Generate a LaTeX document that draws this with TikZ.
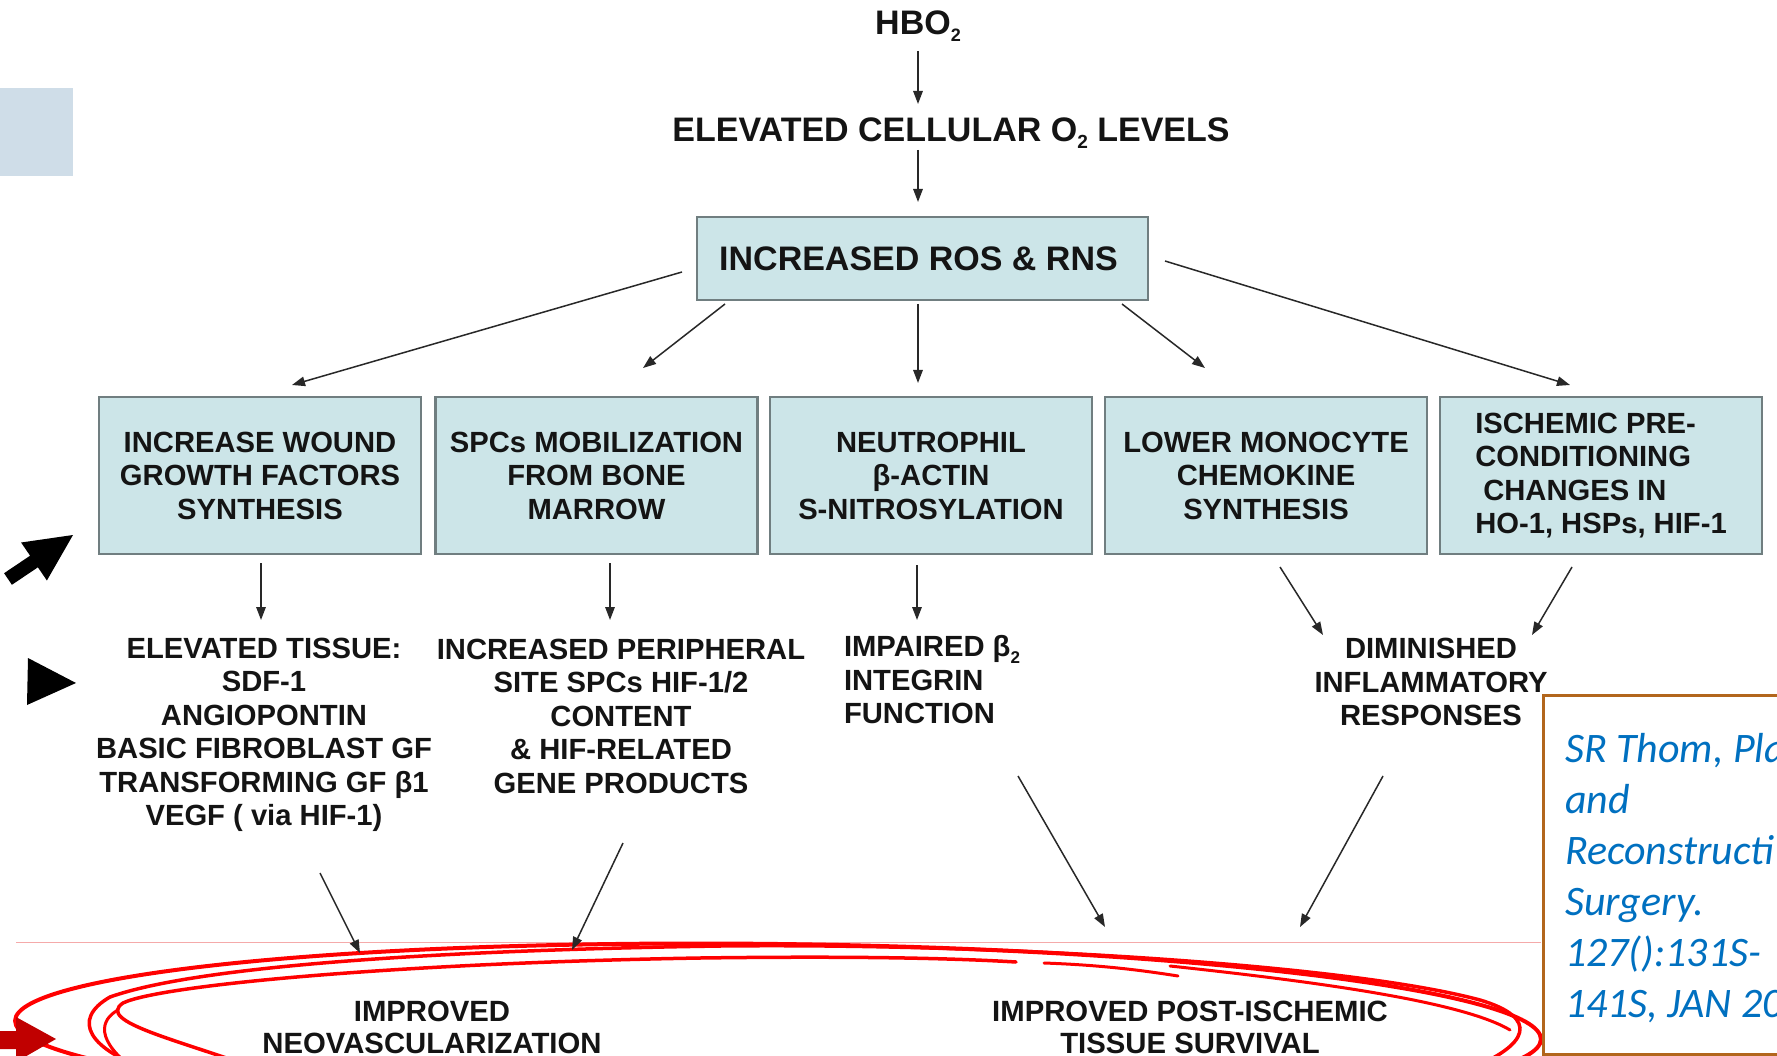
\documentclass[tikz,border=0pt]{standalone}
\usepackage{fontspec}
\setmainfont{Liberation Sans}
\newfontfamily\citefont{Carlito}
\usetikzlibrary{arrows.meta}
\definecolor{boxfill}{RGB}{204,229,232}
\definecolor{boxline}{RGB}{112,126,128}
\definecolor{txt}{RGB}{20,20,20}
\definecolor{arrowc}{RGB}{40,40,40}
\definecolor{scribred}{RGB}{255,0,0}
\definecolor{darkred}{RGB}{192,0,0}
\definecolor{citeborder}{RGB}{178,102,28}
\definecolor{citeblue}{RGB}{0,112,192}
\definecolor{lbrect}{RGB}{207,221,232}
\definecolor{pinkl}{RGB}{245,170,170}
\newcommand{\lowtwo}[1]{\raisebox{-7pt}{\fontsize{#1}{#1}\selectfont 2}}
\begin{document}
\begin{tikzpicture}[x=1pt,y=-1pt,
  every node/.style={inner sep=0pt, outer sep=0pt, text=txt},
  bx/.style={draw=boxline, line width=2.5pt, fill=boxfill, minimum width=322pt, minimum height=157pt, align=center, font=\bfseries\fontsize{29.2}{33.5}\selectfont},
  lbl/.style={align=center, font=\bfseries\fontsize{29.2}{33.5}\selectfont},
  arr/.style={draw=arrowc, line width=1.5pt, -{Triangle[length=13pt,width=9.5pt]}},
  scrib/.style={draw=scribred, line width=4pt, line cap=round}
]
\useasboundingbox (0,0) rectangle (1777,1056);
\clip (0,0) rectangle (1777,1056);
\fill[white] (0,0) rectangle (1777,1056);

% decorations on the left
\fill[lbrect] (0,88) rectangle (73,176);
\fill[black] (4.1,573.2) -- (30.1,555.7) -- (21.1,542.5) -- (73,535) -- (46.9,580.5) -- (37.9,567.3) -- (11.9,584.8) -- cycle;
\fill[black] (28,658) -- (76,683) -- (27,705) -- cycle;

% thin pink line
\draw[pinkl, line width=1pt] (16,942) -- (1541,942);

% red hand-drawn loops
\draw[scrib, rotate around={-0.7:(778,1030)}] (778,1030) ellipse [x radius=763pt, y radius=86pt];
\draw[scrib, line width=3.5pt] (150,1070) .. controls (90,1050) and (70,1020) .. (110,997)
  .. controls (200,965) and (450,950) .. (720,946)
  .. controls (1000,943) and (1350,965) .. (1480,1000)
  .. controls (1540,1018) and (1530,1045) .. (1467,1070);
\draw[scrib, line width=3.5pt] (260,1070) .. controls (180,1040) and (95,1022) .. (123,1003)
  .. controls (160,985) and (400,963) .. (700,958)
  .. controls (850,956) and (950,958) .. (1016,962);
\draw[scrib, line width=3pt] (135,1070) .. controls (95,1040) and (100,1020) .. (118,1010);
\draw[scrib, line width=3pt] (1044,963) .. controls (1100,965) and (1140,970) .. (1178,976);
\draw[scrib, line width=3pt] (1170,966) .. controls (1300,980) and (1460,1000) .. (1510,1030);
\fill[darkred] (0,1031) -- (16,1031) -- (16,1017) -- (56,1039) -- (16,1062) -- (16,1049) -- (0,1049) -- cycle;

% nodes
\node[font=\bfseries\fontsize{34}{38}\selectfont] (hbo) at (918,26) {HBO\lowtwo{18}};
\node[font=\bfseries\fontsize{34}{38}\selectfont] (elev) at (951,133) {ELEVATED CELLULAR O\lowtwo{19} LEVELS};
\node[draw=boxline, line width=2.5pt, fill=boxfill, minimum width=451pt, minimum height=83pt, font=\bfseries\fontsize{34}{38}\selectfont] (ros) at (922.5,258.5) {INCREASED ROS \& RNS\hspace*{8pt}};

\node[bx] (b1) at (260,475.5) {INCREASE WOUND\\GROWTH FACTORS\\SYNTHESIS};
\node[bx] (b2) at (596.5,475.5) {SPCs MOBILIZATION\\FROM BONE\\MARROW};
\node[bx] (b3) at (931,475.5) {NEUTROPHIL\\β-ACTIN\\S-NITROSYLATION};
\node[bx] (b4) at (1266,475.5) {LOWER MONOCYTE\\CHEMOKINE\\SYNTHESIS};
\node[bx, align=left] (b5) at (1601,475.5) {ISCHEMIC PRE-\\CONDITIONING\\\hspace*{8pt}CHANGES IN\\HO-1, HSPs, HIF-1};

\node[lbl] (tA) at (264,735) {ELEVATED TISSUE:\\SDF-1\\ANGIOPONTIN\\BASIC FIBROBLAST GF\\TRANSFORMING GF β1\\VEGF ( via HIF-1)};
\node[lbl] (tB) at (621,716) {INCREASED PERIPHERAL\\SITE SPCs HIF-1/2\\CONTENT\\\& HIF-RELATED\\GENE PRODUCTS};
\node[lbl, align=left, anchor=west] (tC) at (844,680) {IMPAIRED β\lowtwo{17}\\INTEGRIN\\FUNCTION};
\node[lbl] (tD) at (1431,682) {DIMINISHED\\INFLAMMATORY\\RESPONSES};
\node[lbl, font=\bfseries\fontsize{29.3}{32}\selectfont] (bL) at (432,1027) {IMPROVED\\NEOVASCULARIZATION};
\node[lbl, font=\bfseries\fontsize{29.3}{32}\selectfont] (bR) at (1190,1027) {IMPROVED POST-ISCHEMIC\\TISSUE SURVIVAL};

% connectors
\draw[arr] ([shift={(0,25)}]hbo.center) -- ([shift={(-33,-29)}]elev.center);
\draw[arr] ([shift={(-33,17)}]elev.center) -- ([shift={(-4.5,-56.5)}]ros.center);
\draw[arr] ([shift={(-240.5,13.5)}]ros.center) -- ([shift={(32,-90.5)}]b1.center);
\draw[arr] ([shift={(-197.5,45.5)}]ros.center) -- ([shift={(46.5,-107.5)}]b2.center);
\draw[arr] ([shift={(-4.5,45.5)}]ros.center) -- ([shift={(-13,-92.5)}]b3.center);
\draw[arr] ([shift={(199.5,45.5)}]ros.center) -- ([shift={(-61,-107.5)}]b4.center);
\draw[arr] ([shift={(242.5,2.5)}]ros.center) -- ([shift={(-31,-90.5)}]b5.center);
\draw[arr] ([shift={(1,87.5)}]b1.center) -- ([shift={(-3,-115)}]tA.center);
\draw[arr] ([shift={(13.5,87.5)}]b2.center) -- ([shift={(-11,-96)}]tB.center);
\draw[arr] ([shift={(-14,89.5)}]b3.center) -- ([shift={(73,-60)}]tC.west);
\draw[arr] ([shift={(14,91.5)}]b4.center) -- ([shift={(-108,-47)}]tD.center);
\draw[arr] ([shift={(-29,91.5)}]b5.center) -- ([shift={(101,-47)}]tD.center);
\draw[arr] ([shift={(56,138)}]tA.center) -- ([shift={(-72,-74)}]bL.center);
\draw[arr] ([shift={(2,127)}]tB.center) -- ([shift={(140,-77)}]bL.center);
\draw[arr] ([shift={(174,96)}]tC.west) -- ([shift={(-85,-100)}]bR.center);
\draw[arr] ([shift={(-48,94)}]tD.center) -- ([shift={(110,-100)}]bR.center);

% citation box
\node[draw=citeborder, line width=3pt, fill=white, anchor=north west, minimum width=260pt, minimum height=359pt] (citebox) at (1543,695) {};
\node[anchor=north west, align=left, text=citeblue, font=\citefont\itshape\fontsize{42}{51}\selectfont] (cite) at (1565,733) {SR Thom, Pla\\and\\Reconstructi\\Surgery.\\127():131S-\\141S, JAN 20};
\end{tikzpicture}
\end{document}
